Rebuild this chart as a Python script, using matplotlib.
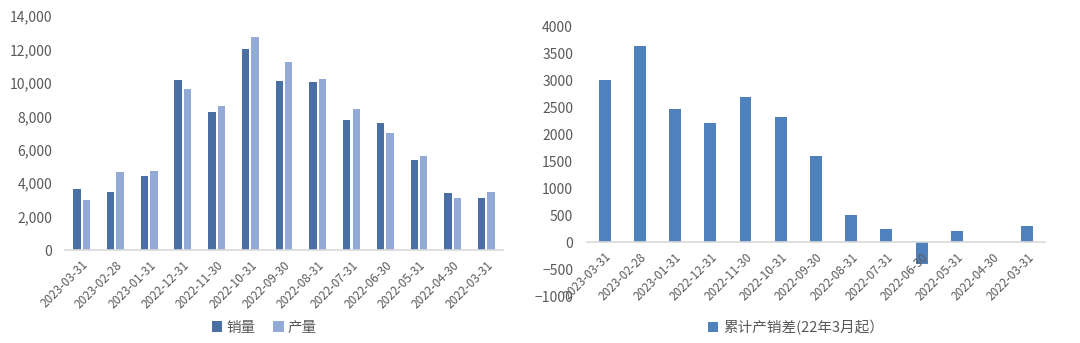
import matplotlib
matplotlib.use("Agg")
import matplotlib.pyplot as plt
from matplotlib.ticker import FuncFormatter

plt.rcParams['font.family'] = ['Noto Sans CJK SC', 'DejaVu Sans']

dates = ["2023-03-31", "2023-02-28", "2023-01-31", "2022-12-31", "2022-11-30",
         "2022-10-31", "2022-09-30", "2022-08-31", "2022-07-31", "2022-06-30",
         "2022-05-31", "2022-04-30", "2022-03-31"]
sales = [3650, 3500, 4450, 10170, 8260, 12030, 10130, 10050, 7790, 7630, 5400, 3420, 3100]
production = [3020, 4690, 4730, 9650, 8620, 12750, 11280, 10250, 8460, 7030, 5640, 3100, 3460]
cum_diff = [3010, 3640, 2470, 2200, 2690, 2310, 1600, 500, 250, -400, 200, 0, 300]

c_sales = "#4A6FA5"
c_prod = "#94AAD6"
c_diff = "#4F81BD"
grey_txt = "#595959"
axis_grey = "#D9D9D9"

fig = plt.figure(figsize=(10.8, 3.43), dpi=100)
x = list(range(len(dates)))

# left: sales vs production
ax1 = fig.add_axes([0.060, 0.271, 0.406, 0.682])
ax1.bar([i - 0.14 for i in x], sales, width=0.22, color=c_sales, label="销量")
ax1.bar([i + 0.14 for i in x], production, width=0.22, color=c_prod, label="产量")
ax1.set_xlim(-0.5, len(dates) - 0.5)
ax1.set_ylim(0, 14000)
ax1.set_yticks(range(0, 14001, 2000))
ax1.yaxis.set_major_formatter(FuncFormatter(lambda v, p: f"{int(v):,}"))
for s in ["top", "right", "left"]:
    ax1.spines[s].set_visible(False)
ax1.spines["bottom"].set_color(axis_grey)
ax1.spines["bottom"].set_linewidth(1.2)
ax1.set_xticks(x)
ax1.set_xticklabels(dates, rotation=45, ha="right", rotation_mode="anchor",
                    fontsize=8.5, color=grey_txt)
ax1.tick_params(axis="both", length=0, colors=grey_txt)
ax1.tick_params(axis="y", labelsize=10, pad=9)
ax1.tick_params(axis="x", pad=6)
ax1.legend(loc="center", bbox_to_anchor=(0.245, 0.045), bbox_transform=fig.transFigure,
           ncol=2, frameon=False, fontsize=10.5, labelcolor=grey_txt,
           handlelength=0.7, handleheight=0.7, handletextpad=0.3, columnspacing=1.2)

# right: cumulative production - sales
ax2 = fig.add_axes([0.5435, 0.137, 0.424, 0.787])
ax2.bar(x, cum_diff, width=0.34, color=c_diff, label="累计产销差(22年3月起）")
ax2.set_xlim(-0.5, len(dates) - 0.5)
ax2.set_ylim(-1000, 4000)
ax2.set_yticks(range(-1000, 4001, 500))
for s in ["top", "right", "left"]:
    ax2.spines[s].set_visible(False)
ax2.spines["bottom"].set_position(("data", 0))
ax2.spines["bottom"].set_color(axis_grey)
ax2.spines["bottom"].set_linewidth(1.2)
ax2.set_xticks(x)
ax2.set_xticklabels(dates, rotation=45, ha="right", rotation_mode="anchor",
                    fontsize=8.5, color=grey_txt)
ax2.tick_params(axis="both", length=0, colors=grey_txt)
ax2.tick_params(axis="y", labelsize=10, pad=10)
ax2.tick_params(axis="x", pad=6)
ax2.legend(loc="center", bbox_to_anchor=(0.737, 0.045), bbox_transform=fig.transFigure,
           frameon=False, fontsize=10.5, labelcolor=grey_txt,
           handlelength=0.7, handleheight=0.7, handletextpad=0.3)

fig.savefig("out.png", dpi=100, facecolor="white")
